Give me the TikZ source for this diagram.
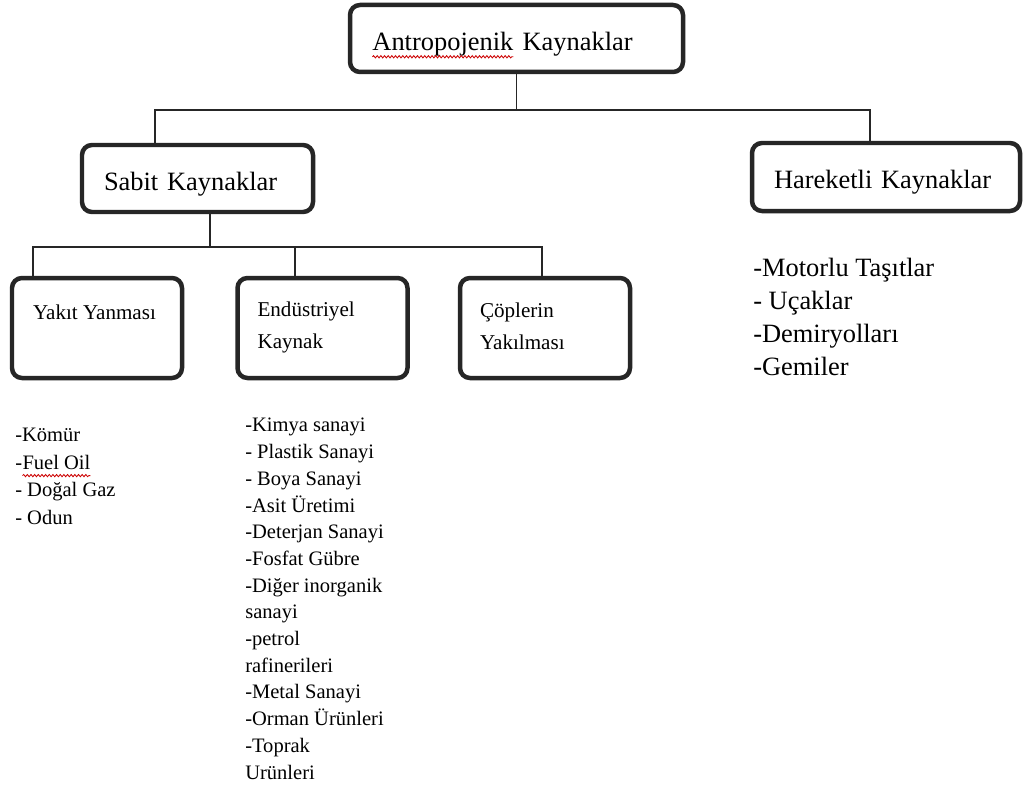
\documentclass[tikz,border=0pt]{standalone}
\usepackage{fontspec}
\setmainfont{Liberation Serif}
\usepackage{tikz}
\usetikzlibrary{decorations.pathmorphing}

% red wavy underline (spell check mark)
\newcommand\spellwave[1]{\tikz[baseline=(sw.base)]{%
    \node[anchor=base, rectangle, draw=none, inner sep=0pt, outer sep=0pt, align=left] (sw) {#1};
    \draw[red!80!black, line width=0.6pt, rounded corners=0pt, decorate, decoration={snake, amplitude=0.8pt, segment length=2.6pt}]
        ([yshift=-4.5pt]sw.base west) -- ([yshift=-4.5pt]sw.base east);}}

\begin{document}
\begin{tikzpicture}[
    srcbox/.style={rectangle, draw=black!85, line width=3.2pt, rounded corners=0.25cm, align=left, inner xsep=0.55cm, inner ysep=0pt},
    bigtext/.style={font=\fontsize{18.8}{22}\selectfont, text height=21pt, text depth=4pt},
    boxtext/.style={align=left, inner sep=0pt, anchor=north west, font=\fontsize{15}{22.8}\selectfont},
    listtext/.style={align=left, inner sep=0pt, anchor=north west, font=\fontsize{14.6}{19}\selectfont},
    link/.style={draw=black!85, line width=1.2pt}
]

% Background
\fill[white] (0,0) rectangle (25.625,-19.775);

% Top level
\node[srcbox, bigtext, text width=7.225cm, minimum height=1.675cm] (antro) at (12.9125,-0.9625) {\spellwave{Antropojenik} Kaynaklar};

% Second level
\node[srcbox, bigtext, text width=4.675cm, minimum height=1.675cm] (sabit) at (4.9375,-4.4625) {Sabit Kaynaklar};
\node[srcbox, bigtext, text width=5.6cm, minimum height=1.7cm] (hareketli) at (22.15,-4.425) {Hareketli Kaynaklar};

\coordinate (bus1) at ([yshift=-0.9cm]antro.south);
\draw[link] (antro.south) -- (bus1);
\draw[link] ([xshift=-1.0625cm]sabit.north) |- (bus1) -| ([xshift=-0.4cm]hareketli.north);

% Third level (under Sabit Kaynaklar)
\node[srcbox, minimum width=4.25cm, minimum height=2.5cm] (yakit) at (2.425,-8.2) {};
\node[srcbox, minimum width=4.25cm, minimum height=2.5cm] (endustri) at (8.0625,-8.2) {};
\node[srcbox, minimum width=4.25cm, minimum height=2.5cm] (copler) at (13.625,-8.2) {};

\node[boxtext] (yakit-t) at ([shift={(0.575,-0.72)}]yakit.north west) {Yakıt Yanması};
\node[boxtext] (endustri-t) at ([shift={(0.55,-0.64)}]endustri.north west) {Endüstriyel\\Kaynak};
\node[boxtext] (copler-t) at ([shift={(0.55,-0.68)}]copler.north west) {Çöplerin\\Yakılması};

\coordinate (bus2) at ([xshift=0.3125cm, yshift=-0.825cm]sabit.south);
\draw[link] ([xshift=0.3125cm]sabit.south) -- (bus2);
\draw[link] ([xshift=-1.6cm]yakit.north) |- (bus2) -| ([xshift=-0.6875cm]endustri.north);
\draw[link] (bus2) -| ([xshift=-0.075cm]copler.north);

% Lists
\node[listtext, font=\fontsize{14.6}{19.6}\selectfont] (yakit-l) at (0.375,-10.7)
    {-Kömür\\-\spellwave{Fuel Oil}\\- Doğal Gaz\\- Odun};
\node[listtext] (endustri-l) at (6.125,-10.45)
    {-Kimya sanayi\\- Plastik Sanayi\\- Boya Sanayi\\-Asit Üretimi\\-Deterjan Sanayi\\-Fosfat Gübre\\-Diğer inorganik\\sanayi\\-petrol\\rafinerileri\\-Metal Sanayi\\-Orman Ürünleri\\-Toprak\\Urünleri};
\node[listtext, font=\fontsize{18.8}{23.5}\selectfont] (hareketli-l) at (18.825,-6.45)
    {-Motorlu Taşıtlar\\- Uçaklar\\-Demiryolları\\-Gemiler};

\end{tikzpicture}
\end{document}
